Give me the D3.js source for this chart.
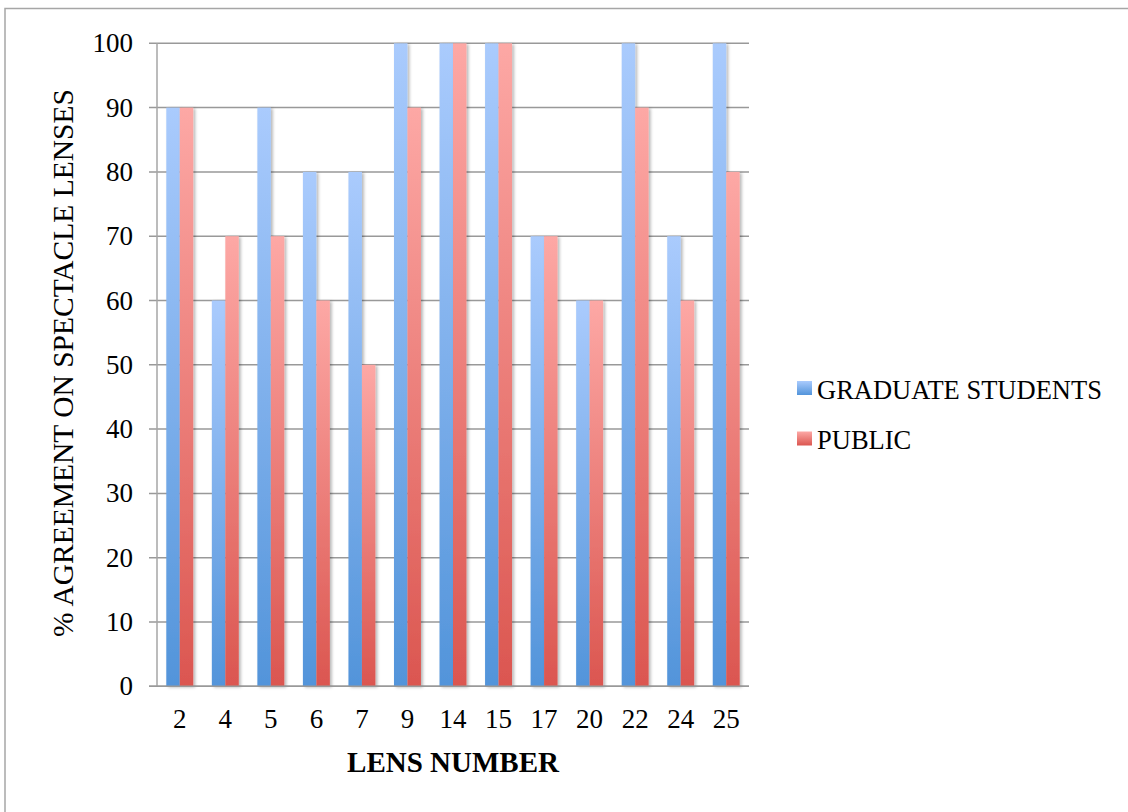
<!DOCTYPE html>
<html>
<head>
<meta charset="utf-8">
<script src="https://cdn.jsdelivr.net/npm/d3@7"></script>
<style>
  body { margin: 0; background: #fff; }
  svg { display: block; }
  text { font-family: "Liberation Serif", "Times New Roman", serif; fill: #000; }
</style>
</head>
<body>
<div id="chart"></div>
<script>
// data
const lenses = ["2", "4", "5", "6", "7", "9", "14", "15", "17", "20", "22", "24", "25"];
const seriesNames = ["GRADUATE STUDENTS", "PUBLIC"];
const gradStudents = [90, 60, 90, 80, 80, 100, 100, 100, 70, 60, 100, 70, 100];
const publicVals = [90, 70, 70, 60, 50, 90, 100, 100, 70, 60, 90, 60, 80];
const yTicks = [0, 10, 20, 30, 40, 50, 60, 70, 80, 90, 100];

const width = 1128, height = 812;
const plot = { left: 157, right: 749, top: 43.3, bottom: 686.3 };

const svg = d3.select("#chart").append("svg")
    .attr("width", width)
    .attr("height", height);

const defs = svg.append("defs");
const grads = [
    { id: "gBlue", top: "#aacbfd", bottom: "#5294da" },
    { id: "gRed", top: "#fda8a5", bottom: "#db5650" }
];
grads.forEach(g => {
    const lg = defs.append("linearGradient")
        .attr("id", g.id)
        .attr("x1", 0).attr("y1", 0).attr("x2", 0).attr("y2", 1);
    lg.append("stop").attr("offset", "0%").attr("stop-color", g.top);
    lg.append("stop").attr("offset", "100%").attr("stop-color", g.bottom);
});
const shadow = defs.append("filter").attr("id", "shadow")
    .attr("x", "-20%").attr("y", "-5%").attr("width", "160%").attr("height", "115%");
shadow.append("feDropShadow")
    .attr("dx", 2).attr("dy", 1).attr("stdDeviation", 1.8)
    .attr("flood-color", "#000").attr("flood-opacity", 0.28);

// outer frame (right/bottom edges fall outside the picture)
svg.append("rect")
    .attr("x", 5).attr("y", 8.5)
    .attr("width", width + 10).attr("height", height + 10)
    .attr("fill", "none")
    .attr("stroke", "#a6a6a6")
    .attr("stroke-width", 1.5);

const x = d3.scaleBand()
    .domain(lenses)
    .range([plot.left, plot.right]);

const step = x.step();
const xInner = d3.scaleBand()
    .domain(seriesNames)
    .range([step * 0.204, step * 0.796]);

const y = d3.scaleLinear()
    .domain([0, 100])
    .range([plot.bottom, plot.top]);

// gridlines + y tick marks
svg.append("g")
    .selectAll("line")
    .data(yTicks)
    .join("line")
    .attr("x1", plot.left - 8)
    .attr("x2", plot.right)
    .attr("y1", d => y(d))
    .attr("y2", d => y(d))
    .attr("stroke", "#999")
    .attr("stroke-width", 1.5);

// y axis line
svg.append("line")
    .attr("x1", plot.left).attr("x2", plot.left)
    .attr("y1", plot.top).attr("y2", plot.bottom)
    .attr("stroke", "#a6a6a6")
    .attr("stroke-width", 1.5);

// bars
const rows = lenses.map((l, i) => ({ lens: l, values: [gradStudents[i], publicVals[i]] }));
const fills = ["url(#gBlue)", "url(#gRed)"];

const groups = svg.append("g")
    .selectAll("g")
    .data(rows)
    .join("g")
    .attr("transform", d => `translate(${x(d.lens)},0)`);

groups.selectAll("rect")
    .data(d => d.values.map((v, k) => ({ key: seriesNames[k], value: v, k: k })))
    .join("rect")
    .attr("x", d => xInner(d.key))
    .attr("width", xInner.bandwidth())
    .attr("y", d => y(d.value))
    .attr("height", d => y(0) - y(d.value))
    .attr("fill", d => fills[d.k])
    .attr("filter", "url(#shadow)");

// x axis line
svg.append("line")
    .attr("x1", plot.left - 8).attr("x2", plot.right)
    .attr("y1", plot.bottom).attr("y2", plot.bottom)
    .attr("stroke", "#999")
    .attr("stroke-width", 1.5);

// y tick labels
svg.append("g")
    .selectAll("text")
    .data(yTicks)
    .join("text")
    .attr("x", 133)
    .attr("y", d => y(d) + 9)
    .attr("text-anchor", "end")
    .style("font-size", "27px")
    .text(d => d);

// x tick labels
svg.append("g")
    .selectAll("text")
    .data(lenses)
    .join("text")
    .attr("x", d => x(d) + step / 2)
    .attr("y", 728)
    .attr("text-anchor", "middle")
    .style("font-size", "27px")
    .text(d => d);

// axis titles
svg.append("text")
    .attr("x", 453)
    .attr("y", 772)
    .attr("text-anchor", "middle")
    .style("font-size", "29px")
    .style("font-weight", "bold")
    .text("LENS NUMBER");

svg.append("text")
    .attr("transform", "translate(73,363) rotate(-90)")
    .attr("text-anchor", "middle")
    .style("font-size", "29.5px")
    .text("% AGREEMENT ON SPECTACLE LENSES");

// legend
const legend = svg.append("g")
    .selectAll("g")
    .data(seriesNames)
    .join("g")
    .attr("transform", (d, i) => `translate(797,${381 + i * 50.5})`);

legend.append("rect")
    .attr("width", 15)
    .attr("height", 14)
    .attr("fill", (d, i) => fills[i]);

legend.append("text")
    .attr("x", 20)
    .attr("y", 17.5)
    .style("font-size", "26.5px")
    .text(d => d);
</script>
</body>
</html>
